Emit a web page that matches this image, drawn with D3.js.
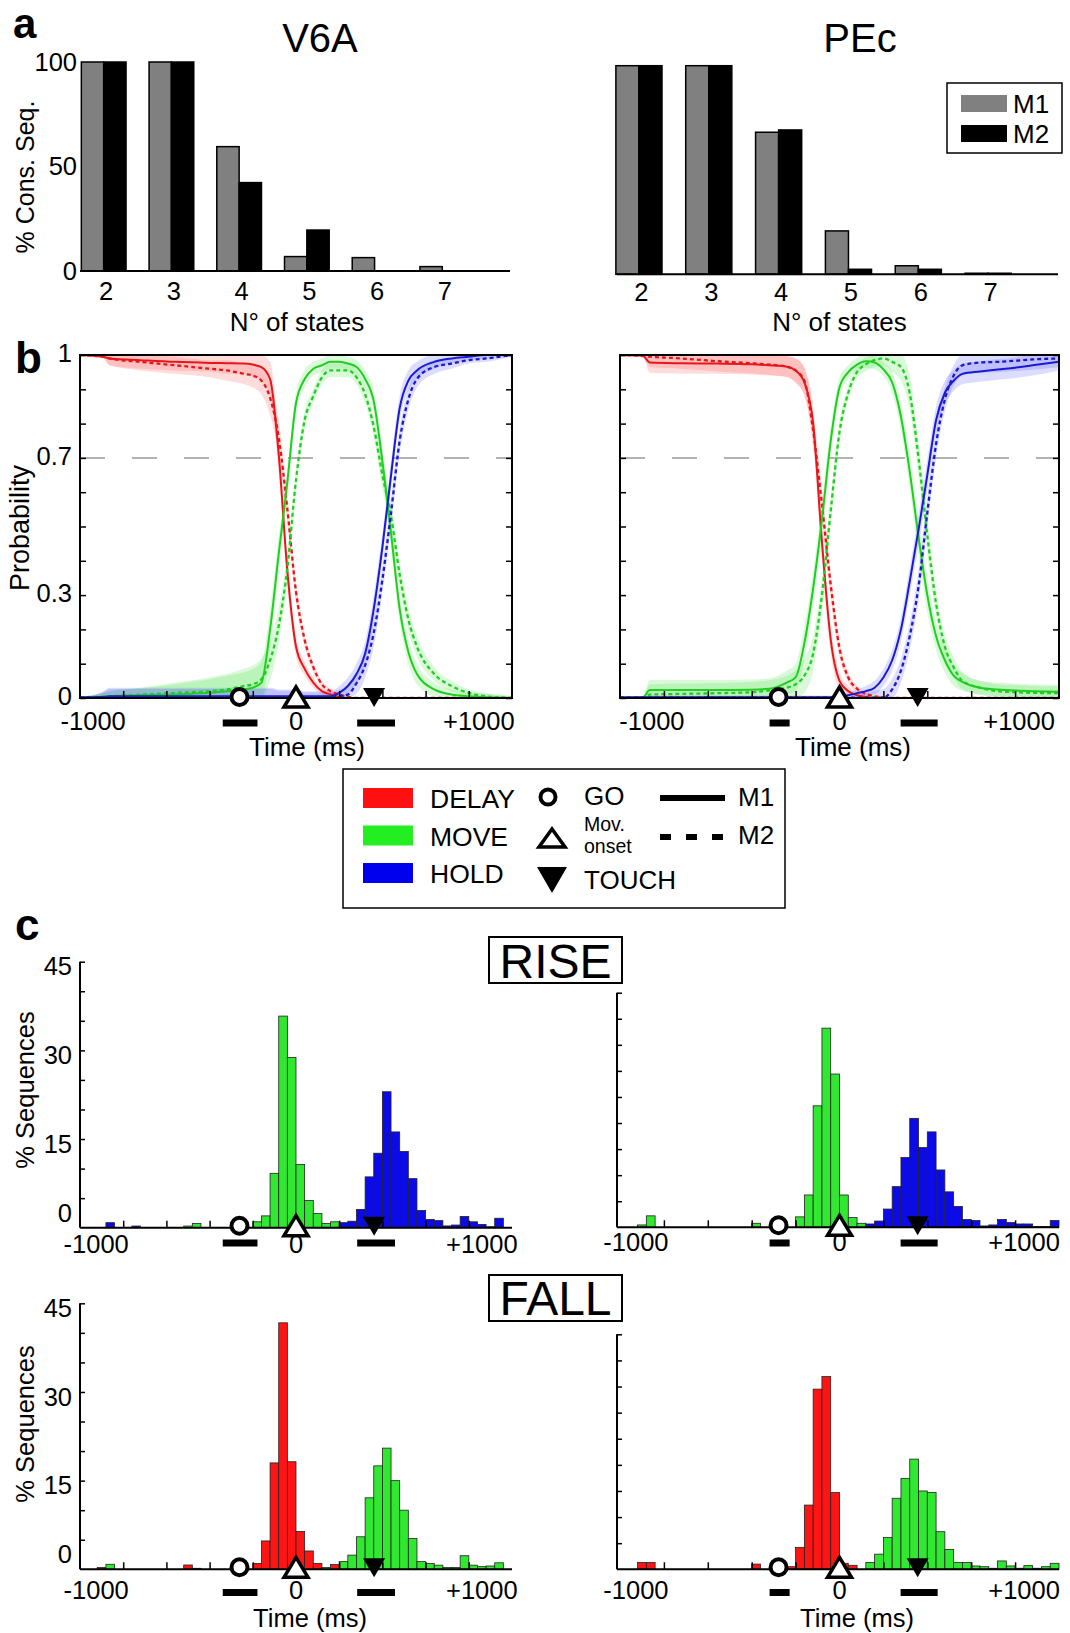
<!DOCTYPE html>
<html>
<head>
<meta charset="utf-8">
<script src="https://cdn.jsdelivr.net/npm/d3@7/dist/d3.min.js"></script>
<style>
  html,body{margin:0;padding:0;background:#fff;}
  svg text{font-family:"Liberation Sans",Arial,Helvetica,sans-serif;}
</style>
</head>
<body>
<svg id="fig" width="1070" height="1633" xmlns="http://www.w3.org/2000/svg"></svg>
<script>
// ================= DATA =================
// Panel a: % consistent sequences by number of states
const nStates = [2, 3, 4, 5, 6, 7];
const consV6A_M1 = [100, 100, 59.5, 6.9, 6.4, 2.1];
const consV6A_M2 = [100, 100, 42.3, 19.6, 0, 0];
const consPEc_M1 = [100, 100, 68.1, 20.8, 4.1, 0.5];
const consPEc_M2 = [100, 100, 69.2, 2.4, 2.4, 0.5];
const monkeys = ["M1", "M2"];

// Panel b: state probability time courses (time in ms, aligned on movement onset)
const timeGrid = [-1250,-1120,-1080,-900,-700,-500,-400,-300,-250,-200,-150,-100,-50,0,50,100,150,200,250,300,350,400,450,500,550,600,650,700,800,900,1000,1100,1250];

const v6aDelayM1 = [1.0,0.995,0.99,0.985,0.98,0.977,0.976,0.975,0.972,0.965,0.93,0.71,0.37,0.15,0.085,0.045,0.02,0.01,0.003,0,0,0,0,0,0,0,0,0,0,0,0,0,0];
const v6aDelayM2 = [1.0,0.995,0.99,0.98,0.97,0.96,0.955,0.945,0.94,0.925,0.875,0.76,0.55,0.31,0.17,0.09,0.04,0.02,0.01,0.003,0,0,0,0,0,0,0,0,0,0,0,0,0];
const v6aMoveM1  = [0,0.004,0.005,0.008,0.01,0.015,0.02,0.025,0.03,0.045,0.2,0.42,0.63,0.86,0.93,0.96,0.97,0.98,0.98,0.975,0.965,0.93,0.865,0.69,0.48,0.26,0.135,0.07,0.025,0.01,0.005,0.002,0];
const v6aMoveM2  = [0,0.004,0.005,0.01,0.015,0.02,0.025,0.035,0.04,0.055,0.11,0.21,0.38,0.635,0.81,0.88,0.935,0.955,0.955,0.955,0.935,0.885,0.79,0.65,0.53,0.36,0.23,0.15,0.07,0.035,0.015,0.005,0];
const v6aHoldM1  = [0.002,0.003,0.005,0.005,0.005,0.005,0.005,0.005,0.005,0.005,0.005,0.005,0.005,0.005,0.005,0.005,0.005,0.005,0.015,0.035,0.07,0.13,0.26,0.44,0.65,0.845,0.925,0.955,0.98,0.99,0.995,1.0,1.0];
const v6aHoldM2  = [0.001,0.001,0.001,0.001,0.001,0.001,0.001,0.001,0.001,0.001,0.001,0.001,0.001,0.001,0.001,0.001,0.001,0.001,0.005,0.01,0.043,0.095,0.19,0.345,0.54,0.75,0.87,0.93,0.965,0.975,0.985,0.99,1.0];
const v6aDelayBand = [0,0,0.02,0.025,0.025,0.025,0.03,0.03,0.035,0.04,0.05,0.05,0.04,0.03,0.02,0.015,0.01,0.008,0.005,0,0,0,0,0,0,0,0,0,0,0,0,0,0];
const v6aMoveBand  = [0.005,0.01,0.015,0.02,0.03,0.04,0.045,0.05,0.055,0.06,0.06,0.05,0.04,0.03,0.025,0.02,0.02,0.02,0.02,0.02,0.02,0.025,0.03,0.04,0.04,0.04,0.035,0.03,0.02,0.015,0.01,0.01,0.005];
const v6aHoldBand  = [0,0.015,0.025,0.025,0.025,0.025,0.025,0.025,0.025,0.025,0.025,0.02,0.02,0.02,0.015,0.015,0.015,0.015,0.02,0.025,0.03,0.035,0.04,0.04,0.04,0.035,0.03,0.025,0.02,0.015,0.01,0.01,0.005];

const pecDelayM1 = [1.0,0.998,0.978,0.976,0.975,0.973,0.97,0.966,0.955,0.92,0.8,0.455,0.17,0.05,0.02,0.008,0.003,0,0,0,0,0,0,0,0,0,0,0,0,0,0,0,0];
const pecDelayM2 = [1.0,0.997,0.995,0.99,0.982,0.976,0.972,0.966,0.955,0.925,0.78,0.565,0.33,0.145,0.06,0.027,0.012,0.005,0.002,0,0,0,0,0,0,0,0,0,0,0,0,0,0];
const pecMoveM1  = [0,0.002,0.023,0.023,0.023,0.024,0.027,0.045,0.06,0.16,0.32,0.52,0.75,0.905,0.95,0.972,0.982,0.978,0.958,0.92,0.82,0.66,0.47,0.3,0.18,0.11,0.065,0.047,0.03,0.025,0.022,0.02,0.018];
const pecMoveM2  = [0,0.001,0.01,0.012,0.014,0.017,0.022,0.03,0.04,0.065,0.13,0.3,0.545,0.775,0.89,0.95,0.973,0.985,0.99,0.98,0.965,0.888,0.7,0.475,0.275,0.15,0.09,0.05,0.03,0.02,0.017,0.015,0.014];
const pecHoldM1  = [0.002,0.002,0.002,0.002,0.002,0.002,0.002,0.002,0.002,0.002,0.002,0.002,0.002,0.003,0.008,0.014,0.02,0.03,0.06,0.11,0.2,0.34,0.49,0.65,0.81,0.89,0.925,0.945,0.952,0.958,0.963,0.97,0.98];
const pecHoldM2  = [0.001,0.001,0.001,0.001,0.001,0.001,0.001,0.001,0.001,0.001,0.001,0.001,0.001,0.001,0.001,0.001,0.001,0.001,0.001,0.025,0.08,0.18,0.325,0.54,0.74,0.87,0.94,0.97,0.978,0.98,0.983,0.987,0.99];
const pecDelayBand = [0,0,0.03,0.03,0.03,0.03,0.03,0.03,0.035,0.04,0.05,0.05,0.04,0.025,0.015,0.01,0.005,0,0,0,0,0,0,0,0,0,0,0,0,0,0,0,0];
const pecMoveBand  = [0,0,0.03,0.03,0.03,0.03,0.03,0.035,0.04,0.05,0.05,0.05,0.04,0.03,0.02,0.02,0.02,0.02,0.02,0.03,0.04,0.05,0.05,0.05,0.04,0.035,0.03,0.025,0.02,0.02,0.02,0.02,0.02];
const pecHoldBand  = [0,0,0.005,0.005,0.005,0.005,0.005,0.005,0.005,0.005,0.005,0.005,0.005,0.005,0.01,0.01,0.015,0.02,0.025,0.03,0.035,0.04,0.045,0.045,0.04,0.035,0.03,0.03,0.03,0.03,0.03,0.03,0.025];

// Behavioural events (ms): GO, Movement onset, TOUCH; and variability ranges for GO and TOUCH
const eventNames = ["GO", "Mov. onset", "TOUCH"];
const v6aEventTimes = [-327, 0, 452];
const v6aGoRange = [-424, -223];
const v6aTouchRange = [354, 573];
const pecEventTimes = [-347, 0, 445];
const pecGoRange = [-398, -284];
const pecTouchRange = [348, 559];

// Panel c: histograms of rise / fall times (50 ms bins; bin start, % sequences)
const binWidth = 50;
const riseV6A_moveStart = [-650,-600,-250,-200,-150,-100,-50,0,50,100,150,200];
const riseV6A_movePct   = [0.28,0.73,1.0,2.0,9.2,35.8,28.8,10.7,4.6,2.4,0.7,1.0];
const riseV6A_holdStart = [-1100,-950,250,300,350,400,450,500,550,600,650,700,750,800,850,900,950,1000,1050,1100,1150];
const riseV6A_holdPct   = [0.85,0.28,0.85,1.1,3.1,8.6,12.6,23.0,16.2,12.9,8.3,2.9,1.4,1.2,0.3,0.45,1.9,1.0,0.56,0.17,1.6];

const risePEc_moveStart = [-1150,-1100,-500,-250,-200,-150,-100,-50,0,50,100];
const risePEc_movePct   = [0.45,2.2,0.77,2.0,6.2,23.3,38.2,29.4,6.2,1.9,0.77];
const risePEc_holdStart = [150,200,250,300,350,400,450,500,550,600,650,700,750,800,850,900,950,1000,1050,1100,1150,1200];
const risePEc_holdPct   = [0.64,1.2,3.5,7.8,13.4,20.9,15.3,18.3,11.0,6.8,4.0,1.5,1.3,0.26,0.45,1.5,0.9,0.64,0.64,0.13,0.13,1.3];

const fallV6A_delayStart = [-1150,-650,-600,-250,-200,-150,-100,-50,0,50,100,200];
const fallV6A_delayPct   = [0.3,0.73,0.17,1.0,4.8,18.0,41.7,18.2,6.4,3.1,1.0,0.8];
const fallV6A_moveStart  = [-1100,150,250,300,350,400,450,500,550,600,650,700,750,800,850,900,950,1000,1050,1100,1150];
const fallV6A_movePct    = [0.85,0.3,1.3,2.4,5.5,12.1,17.5,20.5,15.0,10.0,5.2,1.3,1.0,0.7,0.3,0.3,2.3,0.7,0.45,0.56,1.1];

const fallPEc_delayStart = [-1150,-1100,-500,-300,-250,-200,-150,-100,-50,0,50];
const fallPEc_delayPct   = [1.3,1.3,1.0,0.5,4.2,12.3,34.5,36.9,14.7,1.15,0.77];
const fallPEc_moveStart  = [150,200,250,300,350,400,450,500,550,600,650,700,750,800,850,900,950,1000,1050,1100,1150,1200];
const fallPEc_movePct    = [1.3,2.9,6.1,13.6,17.4,21.1,15.0,14.7,7.2,3.8,1.3,1.3,0.64,0.5,0.2,1.6,0.64,0.2,0.7,0.2,0.5,1.15];

const stateNames = ["DELAY", "MOVE", "HOLD"];
const timeTickLabels = ["-1000", "0", "+1000"];

// ================= STYLE =================
const FONT = '"Liberation Sans", Arial, Helvetica, sans-serif';
const colM1 = "#808080", colM2 = "#000000";
const lineCol = {DELAY: "#e8161b", MOVE: "#1fcf1f", HOLD: "#1a1ad2"};
const bandCol = {DELAY: "#ff5050", MOVE: "#40e040", HOLD: "#5050ff"};
const histCol = {DELAY: "#ff1414", MOVE: "#2fe82f", HOLD: "#0b0bea"};
const legendCol = {DELAY: "#ff1010", MOVE: "#22ee22", HOLD: "#0000ee"};
const TICK = 25.5, LAB = 26;

const svg = d3.select("#fig");
svg.append("rect").attr("width", 1070).attr("height", 1633).attr("fill", "#fff");

function label(x, y, s, size, anchor, opts) {
  opts = opts || {};
  const t = svg.append("text").attr("x", x).attr("y", y).text(s)
    .attr("font-size", size).attr("text-anchor", anchor || "middle")
    .attr("font-family", FONT).attr("fill", "#000");
  if (opts.bold) t.attr("font-weight", "bold");
  if (opts.rotate) t.attr("transform", `rotate(-90,${x},${y})`);
  return t;
}
function styleAxis(g, size) {
  g.attr("font-size", size).attr("font-family", FONT);
  g.selectAll("text").attr("fill", "#000");
  g.selectAll("line").attr("stroke", "#000").attr("stroke-width", 1.5);
  g.select(".domain").remove();
}

// ================= PANEL a =================
label(13, 38, "a", 42, "start", {bold: true});
label(320, 52, "V6A", 40);
label(860, 52, "PEc", 40);

function consPanel(cfg) {
  const x = d3.scaleLinear().domain(cfg.xdom).range([cfg.x0, cfg.x1]);
  const y = d3.scaleLinear().domain([0, 100]).range([cfg.yBase, cfg.yTop]);
  const w = x(cfg.xdom[0] + 0.33) - x(cfg.xdom[0]);
  const g = svg.append("g");
  nStates.forEach((n, i) => {
    [[cfg.m1[i], colM1, -w], [cfg.m2[i], colM2, 0]].forEach(([v, c, off]) => {
      if (v <= 0) return;
      g.append("rect").attr("x", x(n) + off).attr("y", y(v))
        .attr("width", w).attr("height", y(0) - y(v))
        .attr("fill", c).attr("stroke", "#000").attr("stroke-width", 1.5);
    });
  });
  g.append("line").attr("x1", cfg.x0).attr("x2", cfg.x1).attr("y1", y(0)).attr("y2", y(0))
    .attr("stroke", "#000").attr("stroke-width", 2);
  const gx = svg.append("g").attr("transform", `translate(2,${y(0)})`)
    .call(d3.axisBottom(x).tickValues(nStates).tickSize(0).tickPadding(cfg.xPad).tickFormat(d3.format("d")));
  styleAxis(gx, TICK);
  if (cfg.yAxis) {
    const gy = svg.append("g").attr("transform", `translate(${cfg.x0},0)`)
      .call(d3.axisLeft(y).tickValues([0, 50, 100]).tickSize(0).tickPadding(3));
    styleAxis(gy, TICK);
    label(25, 177, "% Cons. Seq.", 25, "middle", {rotate: true}).attr("dy", "0.35em");
  }
  label((cfg.x0 + cfg.x1) / 2 + 2, 331, "N° of states", LAB);
}
consPanel({xdom: [1.65, 8.0], x0: 80, x1: 510, yBase: 271, yTop: 62, xPad: 11, m1: consV6A_M1, m2: consV6A_M2, yAxis: true});
consPanel({xdom: [1.686, 8.0], x0: 617, x1: 1058, yBase: 274.3, yTop: 65.7, xPad: 9, m1: consPEc_M1, m2: consPEc_M2, yAxis: false});

// legend a
(function () {
  const g = svg.append("g");
  g.append("rect").attr("x", 947).attr("y", 83).attr("width", 115).attr("height", 70)
    .attr("fill", "#fff").attr("stroke", "#000").attr("stroke-width", 1.5);
  [colM1, colM2].forEach((c, i) => {
    g.append("rect").attr("x", 961).attr("y", 95 + i * 30).attr("width", 46).attr("height", 17).attr("fill", c);
    label(1013, 113 + i * 30, monkeys[i], 26, "start");
  });
})();

// ================= event markers =================
function drawEvents(x, yc, barY, times, goRange, touchRange) {
  const g = svg.append("g");
  [goRange, touchRange].forEach(r => {
    g.append("rect").attr("x", x(r[0])).attr("y", barY - 3.5)
      .attr("width", x(r[1]) - x(r[0])).attr("height", 7).attr("fill", "#000");
  });
  g.append("circle").attr("cx", x(times[0])).attr("cy", yc).attr("r", 8)
    .attr("fill", "#fff").attr("stroke", "#000").attr("stroke-width", 4);
  const xm = x(times[1]);
  g.append("path").attr("d", `M${xm - 12},${yc + 10}L${xm},${yc - 10}L${xm + 12},${yc + 10}Z`)
    .attr("fill", "#fff").attr("stroke", "#000").attr("stroke-width", 3.5).attr("stroke-linejoin", "miter");
  const xt = x(times[2]);
  g.append("path").attr("d", `M${xt - 11},${yc - 9}L${xt + 11},${yc - 9}L${xt},${yc + 10}Z`).attr("fill", "#000");
}

// ================= PANEL b =================
label(15, 373, "b", 44, "start", {bold: true});

function probPanel(P) {
  const x = d3.scaleLinear().domain([-1250, 1250]).range([P.x0, P.x1]);
  const y = d3.scaleLinear().domain([0, 1]).range([698, 355]);
  const clipId = "clip" + P.id;
  svg.append("clipPath").attr("id", clipId).append("rect")
    .attr("x", P.x0).attr("y", 355).attr("width", P.x1 - P.x0).attr("height", 343);
  const gc = svg.append("g").attr("clip-path", `url(#${clipId})`);
  gc.append("line").attr("x1", P.x0).attr("x2", P.x1).attr("y1", y(0.7)).attr("y2", y(0.7))
    .attr("stroke", "#999").attr("stroke-width", 1.5).attr("stroke-dasharray", "25,27");
  P.states.forEach(s => {
    [s.m1, s.m2].forEach(vals => {
      const area = d3.area()
        .x((d, i) => x(timeGrid[i]))
        .y0((d, i) => y(Math.max(0, d - s.band[i])))
        .y1((d, i) => y(Math.min(1, d + s.band[i])))
        .curve(d3.curveMonotoneX);
      gc.append("path").datum(vals).attr("d", area).attr("fill", bandCol[s.name]).attr("fill-opacity", 0.2);
    });
  });
  const line = d3.line().x((d, i) => x(timeGrid[i])).y(d => y(d)).curve(d3.curveMonotoneX);
  P.states.forEach(s => {
    gc.append("path").datum(s.m1).attr("d", line).attr("fill", "none")
      .attr("stroke", lineCol[s.name]).attr("stroke-width", 2);
    gc.append("path").datum(s.m2).attr("d", line).attr("fill", "none")
      .attr("stroke", lineCol[s.name]).attr("stroke-width", 2.3).attr("stroke-dasharray", "4,3");
  });
  // frame
  svg.append("rect").attr("x", P.x0).attr("y", 355).attr("width", P.x1 - P.x0).attr("height", 343)
    .attr("fill", "none").attr("stroke", "#000").attr("stroke-width", 2);
  const yt = d3.range(0, 11).map(i => i / 10);
  styleAxis(svg.append("g").attr("transform", `translate(${P.x0},0)`)
    .call(d3.axisLeft(y).tickValues(yt).tickSize(-6).tickFormat("")), TICK);
  styleAxis(svg.append("g").attr("transform", `translate(${P.x1},0)`)
    .call(d3.axisRight(y).tickValues(yt).tickSize(-6).tickFormat("")), TICK);
  styleAxis(svg.append("g").attr("transform", `translate(0,698)`)
    .call(d3.axisBottom(x).tickValues([-1000, -750, -500, -250, 0, 250, 500, 750, 1000]).tickSize(-7).tickFormat("")), TICK);
  if (P.yLabels) {
    const gy = svg.append("g").attr("transform", `translate(${P.x0},-2)`)
      .call(d3.axisLeft(y).tickValues([0, 0.3, 0.7, 1]).tickSize(0).tickPadding(8).tickFormat(d => String(d)));
    styleAxis(gy, TICK);
    label(20, 528, "Probability", 27, "middle", {rotate: true}).attr("dy", "0.35em");
  }
  [-1000, 0, 1000].forEach((v, i) => label(x(v) + P.lblDx[i], 730, timeTickLabels[i], TICK));
  label(P.timeX, 756, "Time (ms)", LAB);
  drawEvents(x, 697, 723, P.ev, P.goR, P.touchR);
}
probPanel({id: "bL", x0: 80, x1: 512, yLabels: true, lblDx: [-30, 0, 10], timeX: 307,
  ev: v6aEventTimes, goR: v6aGoRange, touchR: v6aTouchRange,
  states: [
    {name: "DELAY", m1: v6aDelayM1, m2: v6aDelayM2, band: v6aDelayBand},
    {name: "MOVE", m1: v6aMoveM1, m2: v6aMoveM2, band: v6aMoveBand},
    {name: "HOLD", m1: v6aHoldM1, m2: v6aHoldM2, band: v6aHoldBand}]});
probPanel({id: "bR", x0: 620, x1: 1059, yLabels: false, lblDx: [-12, 0, 4], timeX: 853,
  ev: pecEventTimes, goR: pecGoRange, touchR: pecTouchRange,
  states: [
    {name: "DELAY", m1: pecDelayM1, m2: pecDelayM2, band: pecDelayBand},
    {name: "MOVE", m1: pecMoveM1, m2: pecMoveM2, band: pecMoveBand},
    {name: "HOLD", m1: pecHoldM1, m2: pecHoldM2, band: pecHoldBand}]});

// ================= central legend =================
(function () {
  const g = svg.append("g");
  g.append("rect").attr("x", 343).attr("y", 769).attr("width", 442).attr("height", 139)
    .attr("fill", "#fff").attr("stroke", "#000").attr("stroke-width", 1.5);
  stateNames.forEach((s, i) => {
    g.append("rect").attr("x", 363).attr("y", 788 + i * 37.5).attr("width", 50).attr("height", 20).attr("fill", legendCol[s]);
    label(430, 808 + i * 37.5, s, 26.5, "start");
  });
  g.append("circle").attr("cx", 548).attr("cy", 797).attr("r", 7.5).attr("fill", "#fff").attr("stroke", "#000").attr("stroke-width", 4);
  label(584, 805, eventNames[0], 26, "start");
  g.append("path").attr("d", "M539,847L552,829L565,847Z").attr("fill", "#fff").attr("stroke", "#000").attr("stroke-width", 3.5);
  label(584, 831, "Mov.", 19.5, "start");
  label(584, 853, "onset", 19.5, "start");
  g.append("path").attr("d", "M537,867L567,867L552,893Z").attr("fill", "#000");
  label(584, 889, eventNames[2], 26, "start");
  g.append("line").attr("x1", 660).attr("x2", 725).attr("y1", 798).attr("y2", 798).attr("stroke", "#000").attr("stroke-width", 6);
  g.append("line").attr("x1", 660).attr("x2", 725).attr("y1", 837).attr("y2", 837).attr("stroke", "#000").attr("stroke-width", 6).attr("stroke-dasharray", "11,15");
  label(738, 806, monkeys[0], 26, "start");
  label(738, 844, monkeys[1], 26, "start");
})();

// ================= PANEL c =================
label(15, 940, "c", 44, "start", {bold: true});

function boxTitle(y0, s, baseline) {
  svg.append("rect").attr("x", 489).attr("y", y0).attr("width", 133).attr("height", 46)
    .attr("fill", "#fff").attr("stroke", "#000").attr("stroke-width", 2);
  label(555.5, baseline, s, 48);
}
boxTitle(937, "RISE", 978);
boxTitle(1275, "FALL", 1315);

function histPanel(P) {
  const x = d3.scaleLinear().domain([-1250, 1250]).range([P.x0, P.x1]);
  const y = d3.scaleLinear().domain([0, 45]).range([P.yBase, P.yTop]);
  const g = svg.append("g");
  P.series.forEach(s => {
    s.starts.forEach((st, i) => {
      const v = s.pct[i];
      g.append("rect").attr("x", x(st)).attr("y", y(v))
        .attr("width", x(st + binWidth) - x(st)).attr("height", y(0) - y(v))
        .attr("fill", histCol[s.name]).attr("stroke", "#222").attr("stroke-width", 0.8);
    });
  });
  // axes
  svg.append("line").attr("x1", P.ax0).attr("x2", P.x1).attr("y1", y(0)).attr("y2", y(0)).attr("stroke", "#000").attr("stroke-width", 2);
  svg.append("line").attr("x1", P.ax0).attr("x2", P.ax0).attr("y1", y(45)).attr("y2", y(0)).attr("stroke", "#000").attr("stroke-width", 2);
  styleAxis(svg.append("g").attr("transform", `translate(${P.ax0},0)`)
    .call(d3.axisLeft(y).tickValues(d3.range(5, 46, 5)).tickSize(-5).tickFormat("")), TICK);
  styleAxis(svg.append("g").attr("transform", `translate(0,${y(0)})`)
    .call(d3.axisBottom(x).tickValues([-1000, -750, -500, -250, 0, 250, 500, 750, 1000]).tickSize(-7).tickFormat("")), TICK);
  if (P.yLabels) {
    const gy = svg.append("g").attr("transform", `translate(${P.ax0},5)`)
      .call(d3.axisLeft(y).tickValues([15, 30, 45]).tickSize(0).tickPadding(8));
    styleAxis(gy, TICK);
    label(P.ax0 - 8, y(0) - 6, "0", TICK, "end");
    label(25, P.ylabY, "% Sequences", 25.5, "middle", {rotate: true}).attr("dy", "0.35em");
  }
  [-1000, 0, 1000].forEach((v, i) => label(x(v) + P.lblDx[i], P.lblY, timeTickLabels[i], TICK));
  if (P.timeY) label(P.timeX, P.timeY, "Time (ms)", 25.5);
  drawEvents(x, y(0) - 2, P.barY, P.ev, P.goR, P.touchR);
}
histPanel({x0: 80, x1: 512, ax0: 80, yBase: 1227.7, yTop: 961.7, yLabels: true, ylabY: 1090,
  lblDx: [-27, 0, 13], lblY: 1253, barY: 1243,
  ev: v6aEventTimes, goR: v6aGoRange, touchR: v6aTouchRange,
  series: [{name: "MOVE", starts: riseV6A_moveStart, pct: riseV6A_movePct},
           {name: "HOLD", starts: riseV6A_holdStart, pct: riseV6A_holdPct}]});
histPanel({x0: 620, x1: 1059, ax0: 617, yBase: 1227.3, yTop: 992.7, yLabels: false,
  lblDx: [-28, 0, 9], lblY: 1251, barY: 1243,
  ev: pecEventTimes, goR: pecGoRange, touchR: pecTouchRange,
  series: [{name: "MOVE", starts: risePEc_moveStart, pct: risePEc_movePct},
           {name: "HOLD", starts: risePEc_holdStart, pct: risePEc_holdPct}]});
histPanel({x0: 80, x1: 512, ax0: 80, yBase: 1569.3, yTop: 1303.3, yLabels: true, ylabY: 1424,
  lblDx: [-27, 0, 13], lblY: 1598.5, barY: 1592.5, timeX: 310, timeY: 1627,
  ev: v6aEventTimes, goR: v6aGoRange, touchR: v6aTouchRange,
  series: [{name: "DELAY", starts: fallV6A_delayStart, pct: fallV6A_delayPct},
           {name: "MOVE", starts: fallV6A_moveStart, pct: fallV6A_movePct}]});
histPanel({x0: 620, x1: 1059, ax0: 617, yBase: 1569.3, yTop: 1334.3, yLabels: false,
  lblDx: [-28, 0, 9], lblY: 1598.5, barY: 1592.5, timeX: 857, timeY: 1627,
  ev: pecEventTimes, goR: pecGoRange, touchR: pecTouchRange,
  series: [{name: "DELAY", starts: fallPEc_delayStart, pct: fallPEc_delayPct},
           {name: "MOVE", starts: fallPEc_moveStart, pct: fallPEc_movePct}]});
</script>
</body>
</html>
